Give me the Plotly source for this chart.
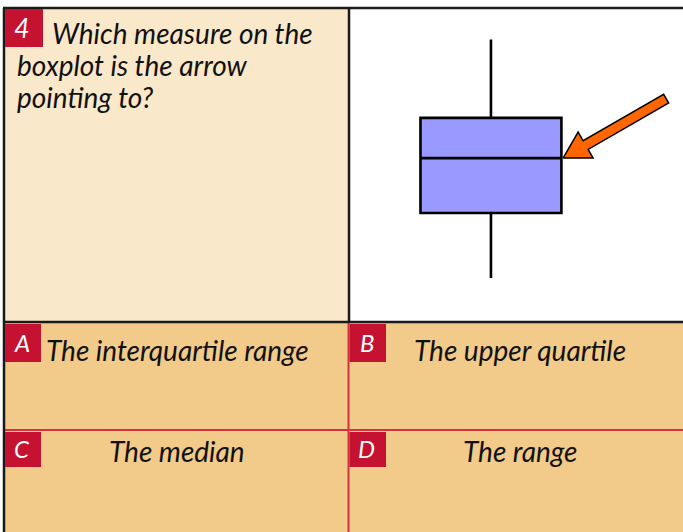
import math
import plotly.graph_objects as go

# page size in px
W, H = 683, 532

# boxplot summary (y axis 0..10)
box_pos = [4.25]
lower_fence = [1.4]
q1 = [3.47]
median = [5.22]
q3 = [6.5]
upper_fence = [9.0]

question = ["Which measure on the", "boxplot is the arrow", "pointing to?"]
letters = ["A", "B", "C", "D"]
answers = ["The interquartile range", "The upper quartile", "The median", "The range"]

BEIGE = "#F9E8CA"
SAND = "#F2CA89"
RED = "#C41230"
LINE_RED = "#D1343C"
FONT = "Lato"

# right panel (plot area) in px
PX0, PX1, PY0, PY1 = 349, 683, 8, 322
XR, YR = 10.0, 10.0
sx = (PX1 - PX0) / XR  # px per x unit
sy = (PY1 - PY0) / YR  # px per y unit
box_w = 4.22


def px(x):
    return x / W


def py(y):
    return 1 - y / H


fig = go.Figure()

fig.add_trace(go.Box(
    x=box_pos, q1=q1, median=median, q3=q3,
    lowerfence=lower_fence, upperfence=upper_fence,
    width=box_w, whiskerwidth=0,
    fillcolor="#9999FF", line=dict(color="black", width=2.6),
    hoverinfo="skip", showlegend=False,
))

# block arrow pointing at the median, built in pixel space then mapped to data
tip_x = box_pos[0] + box_w / 2 + 0.05
tip_y = median[0]
ang = math.radians(30)
ux, uy = math.cos(ang), math.sin(ang)   # direction tip -> tail (up-right)
nx, ny = -uy, ux                        # perpendicular
head_len, head_hw, shaft_hw, length = 26, 15, 5, 119
pts = [(0, 0), (head_len, head_hw), (head_len, shaft_hw), (length, shaft_hw),
       (length, -shaft_hw), (head_len, -shaft_hw), (head_len, -head_hw), (0, 0)]
ax_, ay_ = [], []
for a, b in pts:
    dx = a * ux + b * nx
    dy = a * uy + b * ny
    ax_.append(tip_x + dx / sx)
    ay_.append(tip_y + dy / sy)
fig.add_trace(go.Scatter(
    x=ax_, y=ay_, mode="lines", fill="toself", fillcolor="#FF6600",
    line=dict(color="black", width=1.5), hoverinfo="skip", showlegend=False,
))

shapes = []


def rect(x0, y0, x1, y1, color):
    shapes.append(dict(type="rect", xref="paper", yref="paper",
                       x0=px(x0), x1=px(x1), y0=py(y1), y1=py(y0),
                       fillcolor=color, line=dict(width=0), layer="below"))


def line(x0, y0, x1, y1, color, w):
    shapes.append(dict(type="line", xref="paper", yref="paper",
                       x0=px(x0), x1=px(x1), y0=py(y0), y1=py(y1),
                       line=dict(color=color, width=w), layer="above"))


rect(4, 8, 349, 322, BEIGE)
rect(4, 322, 683, 532, SAND)

line(348.5, 322, 348.5, 532, LINE_RED, 2)
line(4, 430, 683, 430, LINE_RED, 2)
line(3, 8, 683, 8, "#1a1a1a", 2.5)
line(4, 8, 4, 532, "#1a1a1a", 2.5)
line(349, 8, 349, 322, "#1a1a1a", 2.5)
line(3, 322, 683, 322, "#1a1a1a", 2.5)

# red label boxes: question number + answer letters
label_boxes = [(5, 9, 43, 47), (5, 324, 41, 362), (349.5, 324, 386, 362),
               (5, 432, 41, 467), (349.5, 432, 386, 467)]
for b in label_boxes:
    shapes.append(dict(type="rect", xref="paper", yref="paper",
                       x0=px(b[0]), x1=px(b[2]), y0=py(b[3]), y1=py(b[1]),
                       fillcolor=RED, line=dict(width=0), layer="above"))

annotations = []


def text(s, x, y, size, color="#111111", anchor="left"):
    annotations.append(dict(text=s, x=px(x), y=py(y), xref="paper", yref="paper",
                            xanchor=anchor, yanchor="middle", showarrow=False,
                            font=dict(family=FONT, size=size, color=color, style="italic")))


text("4", 22, 28, 27, "white", "center")
text(question[0], 50, 33, 28)
text(question[1], 15, 65, 28)
text(question[2], 15, 97, 28)

for i, (lab, ans) in enumerate(zip(letters, answers)):
    b = label_boxes[i + 1]
    text(lab, (b[0] + b[2]) / 2 - 1, (b[1] + b[3]) / 2 - 1, 24, "white", "center")
    cx = 177 if i % 2 == 0 else 520
    cy = 350 if i < 2 else 451
    text(ans, cx, cy, 28, anchor="center")

fig.update_layout(
    width=W, height=H, margin=dict(l=0, r=0, t=0, b=0),
    paper_bgcolor="white", plot_bgcolor="white",
    shapes=shapes, annotations=annotations,
    xaxis=dict(domain=[px(PX0), px(PX1)], range=[0, XR], visible=False, fixedrange=True),
    yaxis=dict(domain=[py(PY1), py(PY0)], range=[0, YR], visible=False, fixedrange=True),
    showlegend=False,
)

# drop the browser's default body margin so the figure sits at 0,0
fig.write_html("out.html", config={"displayModeBar": False},
               post_script="document.body.style.margin='0';")
